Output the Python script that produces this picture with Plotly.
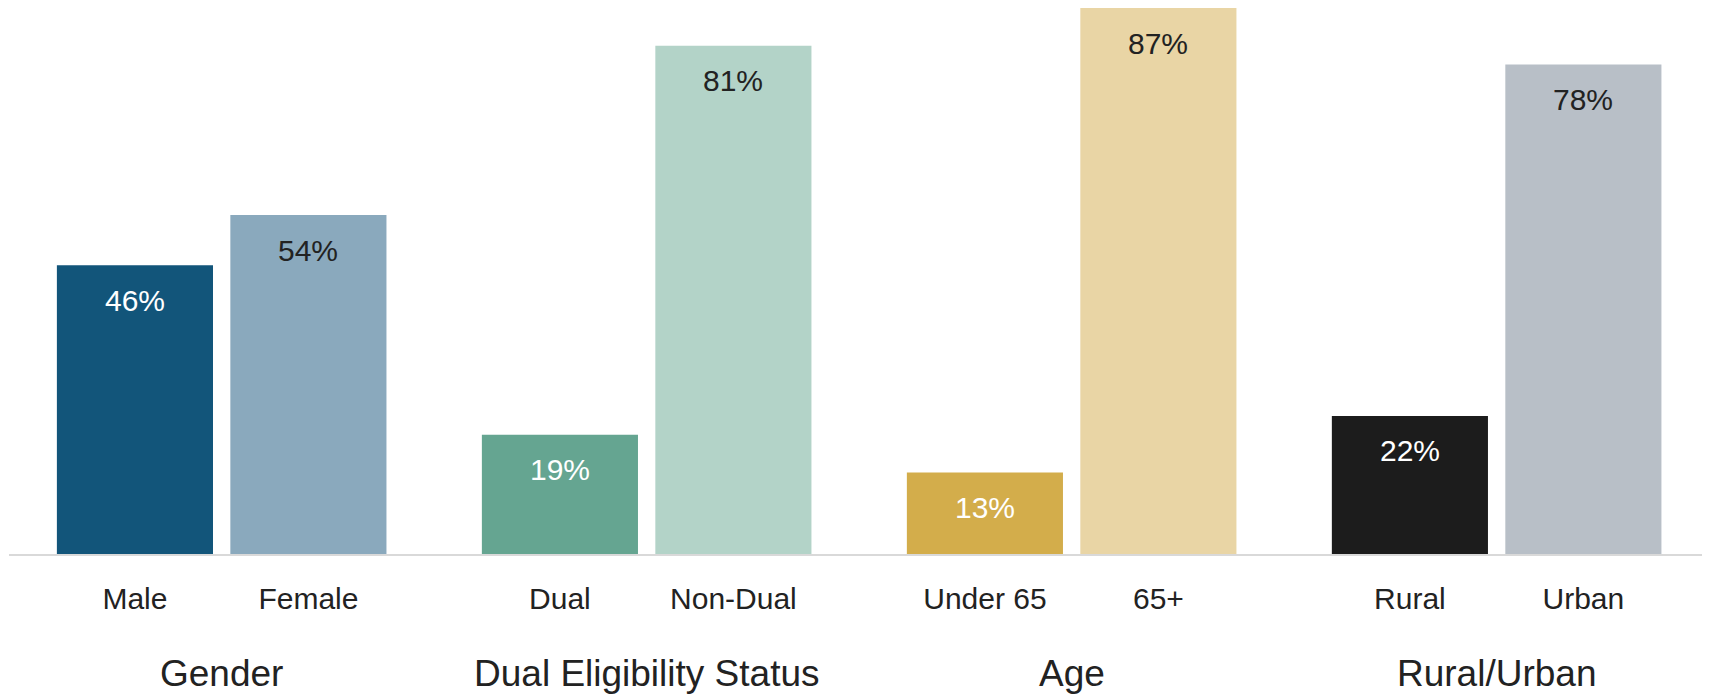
import plotly.graph_objects as go

groups = ["Gender", "Dual Eligibility Status", "Age", "Rural/Urban"]
categories = [["Male", "Female"], ["Dual", "Non-Dual"], ["Under 65", "65+"], ["Rural", "Urban"]]
values = [[46, 54], [19, 81], [13, 87], [22, 78]]
labels = [["46%", "54%"], ["19%", "81%"], ["13%", "87%"], ["22%", "78%"]]
colors = [["#12557a", "#8aa9bd"], ["#65a591", "#b3d3c8"], ["#d3ad4b", "#e9d5a5"], ["#1c1c1c", "#b8bfc7"]]
text_colors = [["#ffffff", "#222222"], ["#ffffff", "#222222"], ["#ffffff", "#222222"], ["#ffffff", "#222222"]]

GROUP_PITCH = 2.45
FONT = "Liberation Sans, Arial, sans-serif"

xs, ys, cols, tickvals, ticktext = [], [], [], [], []
annotations = []
for gi, g in enumerate(groups):
    gx = []
    for ci, c in enumerate(categories[gi]):
        x = gi * GROUP_PITCH + ci
        gx.append(x)
        xs.append(x)
        ys.append(values[gi][ci])
        cols.append(colors[gi][ci])
        tickvals.append(x)
        ticktext.append(c)
        annotations.append(dict(
            x=x, y=values[gi][ci], xref="x", yref="y", text=labels[gi][ci],
            showarrow=False, yanchor="middle", yshift=-35,
            font=dict(family=FONT, size=30, color=text_colors[gi][ci]),
        ))
    annotations.append(dict(
        x=sum(gx) / len(gx), y=0, xref="x", yref="paper", text=g,
        showarrow=False, yanchor="middle", yshift=-119,
        font=dict(family=FONT, size=37, color="#222222"),
    ))

fig = go.Figure(go.Bar(
    x=xs, y=ys, width=0.9, marker=dict(color=cols, line=dict(width=0)),
    hoverinfo="skip",
))

# page body adds an 8px margin; size the figure to fit the 1710x695 window
fig.update_layout(
    width=1702, height=687,
    margin=dict(l=1, r=0, t=0, b=141),
    paper_bgcolor="white", plot_bgcolor="white",
    showlegend=False,
    annotations=annotations,
    font=dict(family=FONT, color="#222222"),
)
fig.update_xaxes(
    range=[-0.726, 9.08], tickvals=tickvals, ticktext=ticktext,
    tickfont=dict(family=FONT, size=30, color="#222222"),
    showgrid=False, zeroline=False, showline=True, linecolor="#d9d9d9", linewidth=2,
    ticks="", ticklabelstandoff=17,
)
fig.update_yaxes(
    range=[0, 87], visible=False, showgrid=False, zeroline=False,
)

fig.write_html("out.html")
